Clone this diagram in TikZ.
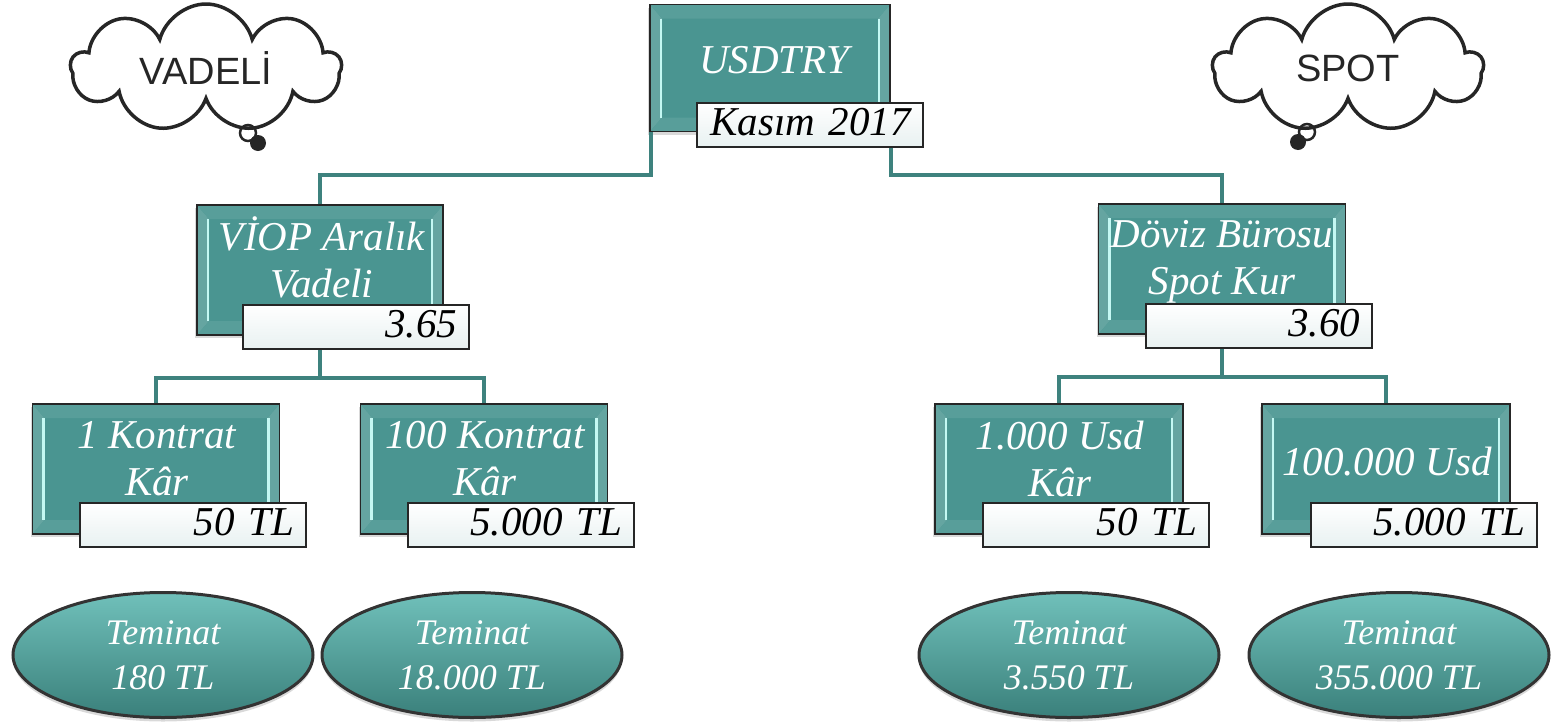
\documentclass[tikz,border=0pt]{standalone}
\usepackage{fontspec}
\setmainfont{Liberation Serif}
\newfontfamily\cloudfont{Liberation Sans}
\usetikzlibrary{shapes.geometric,shapes.symbols,shadows}

\definecolor{boxteal}{RGB}{74,149,145}
\definecolor{linkteal}{RGB}{62,130,126}
\definecolor{bevellight}{RGB}{196,248,243}
\definecolor{labelfill}{RGB}{232,241,241}
\definecolor{ovaltop}{RGB}{112,192,186}
\definecolor{ovalbottom}{RGB}{58,128,123}

\tikzset{
  tealbox/.style={rectangle, draw=black!85, line width=1.5pt, fill=boxteal,
    drop shadow={shadow xshift=-2pt, shadow yshift=-3pt, opacity=0.3},
    path picture={
      \fill[boxteal!85!white]
        (path picture bounding box.north west) -- ([shift={(12pt,-14pt)}]path picture bounding box.north west)
        -- ([shift={(12pt,14pt)}]path picture bounding box.south west) -- (path picture bounding box.south west) -- cycle;
      \fill[boxteal!85!white]
        (path picture bounding box.north east) -- ([shift={(-12pt,-14pt)}]path picture bounding box.north east)
        -- ([shift={(-12pt,14pt)}]path picture bounding box.south east) -- (path picture bounding box.south east) -- cycle;
      \fill[boxteal!92!white]
        (path picture bounding box.north west) -- ([shift={(12pt,-14pt)}]path picture bounding box.north west)
        -- ([shift={(-12pt,-14pt)}]path picture bounding box.north east) -- (path picture bounding box.north east) -- cycle;
      \fill[boxteal!92!white]
        (path picture bounding box.south west) -- ([shift={(12pt,14pt)}]path picture bounding box.south west)
        -- ([shift={(-12pt,14pt)}]path picture bounding box.south east) -- (path picture bounding box.south east) -- cycle;
      \draw[bevellight, line width=2.5pt]
        ([shift={(11pt,-14pt)}]path picture bounding box.north west) -- ([shift={(11pt,14pt)}]path picture bounding box.south west)
        ([shift={(-11pt,-14pt)}]path picture bounding box.north east) -- ([shift={(-11pt,14pt)}]path picture bounding box.south east);
    }},
  boxtext/.style={text=white, align=center, inner sep=0pt, font=\fontsize{41}{47}\selectfont\itshape},
  valbox/.style={rectangle, draw=black!85, line width=1.5pt, top color=white, bottom color=labelfill,
    text width=202pt, align=right, inner xsep=12pt, inner ysep=4pt, text height=28pt, text depth=8pt,
    font=\fontsize{41}{46}\selectfont\itshape},
  oval/.style={ellipse, draw=black!80, line width=3pt, top color=ovaltop, bottom color=ovalbottom,
    drop shadow={shadow xshift=0pt, shadow yshift=-4pt, opacity=0.3},
    minimum width=300pt, minimum height=125pt, inner sep=0pt, text=white, align=center,
    font=\fontsize{36}{45}\selectfont\itshape},
  thought/.style={cloud, cloud puffs=9, cloud ignores aspect, draw=black!85, line width=3.5pt,
    inner sep=0pt, minimum width=270pt, minimum height=128pt,
    font=\cloudfont\fontsize{38}{40}\selectfont, text=black!85},
  link/.style={draw=linkteal, line width=4pt}
}

\begin{document}
\begin{tikzpicture}[x=1pt, y=-1pt]
  \useasboundingbox (0,0) rectangle (1553,726);

  % clouds
  \node[thought] (vadeli) at (206,68) {VADEL\.I};
  \draw[black!85, line width=2.5pt] (248,133) circle (8pt);
  \fill[black!85] (258,143) circle (8pt);
  \node[thought] (spot) at (1348,68) {SPOT};
  \draw[black!85, line width=2.5pt] (1307,132) circle (8pt);
  \fill[black!85] (1298,142) circle (8pt);

  % boxes
  \node[tealbox, minimum width=240pt, minimum height=127pt] (usd) at (770,68) {};
  \node[tealbox, minimum width=246pt, minimum height=130pt] (viop) at (320,270) {};
  \node[tealbox, minimum width=247pt, minimum height=130pt] (doviz) at (1222,269) {};
  \node[tealbox, minimum width=247pt, minimum height=130pt] (k1) at (156,469) {};
  \node[tealbox, minimum width=247pt, minimum height=130pt] (k100) at (484,469) {};
  \node[tealbox, minimum width=248pt, minimum height=130pt] (u1) at (1059,469) {};
  \node[tealbox, minimum width=248pt, minimum height=130pt] (u100) at (1386,469) {};

  % connectors
  \draw[link] ([xshift=2pt]usd.south west) -- ++(0,43) -| (viop.north);
  \draw[link] (usd.south east) -- ++(0,43) -| (doviz.north);
  \draw[link] (viop.south) -- ++(0,42) -| (k1.north);
  \draw[link] (viop.south) -- ++(0,42) -| (k100.north);
  \draw[link] (doviz.south) -- ++(0,42) -| (u1.north);
  \draw[link] (doviz.south) -- ++(0,42) -| (u100.north);

  % box texts
  \node[boxtext, anchor=base] (usdt) at (774,73) {USDTRY};
  \node[boxtext] (viopt) at (322,257) {V\.IOP Aralık\\Vadeli};
  \node[boxtext] (dovizt) at (1222,262) {Döviz Bürosu\\Spot Kur};
  \node[boxtext] (k1t) at (157,459) {1 Kontrat\\Kâr};
  \node[boxtext] (k100t) at (485,459) {100 Kontrat\\Kâr};
  \node[boxtext] (u1t) at (1060,459) {1.000 Usd\\Kâr};
  \node[boxtext, anchor=base] (u100t) at (1387,475) {100.000 Usd};

  % values
  \node[valbox] (usdval) at (810,125) {Kasım 2017};
  \node[valbox] (viopval) at (356,327) {3.65};
  \node[valbox] (dovizval) at (1259,326) {3.60};
  \node[valbox] (k1val) at (193,525) {50 TL};
  \node[valbox] (k100val) at (521,525) {5.000 TL};
  \node[valbox] (u1val) at (1096,525) {50 TL};
  \node[valbox] (u100val) at (1424,525) {5.000 TL};

  % margins
  \node[oval] (tem1) at (163,655) {Teminat\\180 TL};
  \node[oval] (tem2) at (472,655) {Teminat\\18.000 TL};
  \node[oval] (tem3) at (1069,655) {Teminat\\3.550 TL};
  \node[oval] (tem4) at (1399,655) {Teminat\\355.000 TL};
\end{tikzpicture}
\end{document}
